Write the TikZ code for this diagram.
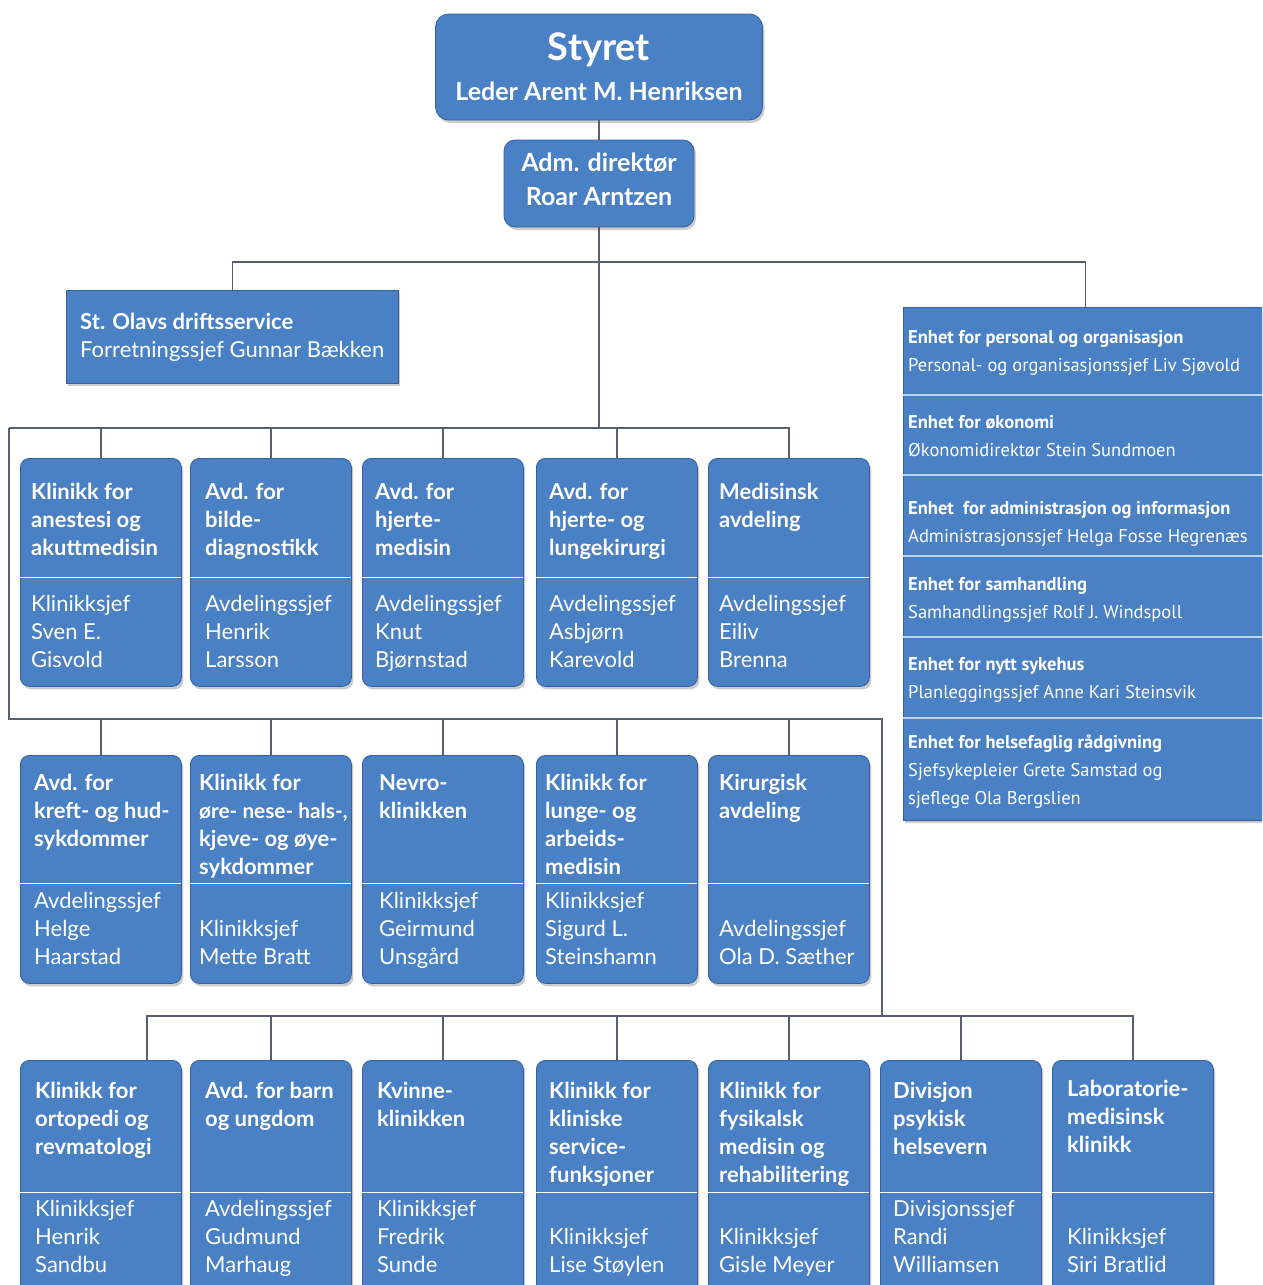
\documentclass[tikz,border=0pt]{standalone}
\usepackage{fontspec}
\setmainfont{Lato}
\newfontfamily\panelfont{PT Sans}
\usetikzlibrary{positioning, shadows}
\definecolor{boxblue}{RGB}{74,128,196}
\definecolor{boxedge}{RGB}{52,96,160}
\definecolor{wiregray}{RGB}{88,96,110}
\definecolor{rule}{RGB}{190,212,238}

\begin{document}
\begin{tikzpicture}[x=1pt, y=-1pt,
  box/.style={rectangle, rounded corners=9pt, draw=boxedge, line width=0.8pt, fill=boxblue, inner sep=0pt,
    drop shadow={shadow xshift=2pt, shadow yshift=-3pt, opacity=0.4}},
  unit/.style={box, anchor=north west, minimum width=161pt},
  flat/.style={box, sharp corners, anchor=north west},
  head/.style={anchor=north west, inner sep=0pt, align=left, text=white, font=\bfseries\fontsize{22}{28}\selectfont},
  body/.style={anchor=north west, inner sep=0pt, align=left, text=white, font=\fontsize{22}{28}\selectfont},
  note/.style={anchor=north west, inner sep=0pt, align=left, text=white, font=\panelfont\fontsize{18.5}{28}\selectfont},
  wire/.style={draw=wiregray, line width=1.5pt},
  divider/.style={draw=white, line width=1pt},
  panelrule/.style={draw=rule, line width=2pt}
]
\useasboundingbox (0,0) rectangle (1262,1285);
\clip (0,0) rectangle (1262,1285);

% Top of the chart
\node[box, rounded corners=13pt, minimum width=327pt, minimum height=106pt, text=white, align=center,
  font=\bfseries\fontsize{25}{40}\selectfont] (styret) at (599,67)
  {{\fontsize{38}{40}\selectfont Styret}\\Leder Arent M. Henriksen};
\node[box, rounded corners=11pt, minimum width=190pt, minimum height=87pt, text=white, align=center,
  text depth=9pt, font=\bfseries\fontsize{25}{34}\selectfont] (adm) at (599,183.5) {Adm. direktør\\Roar Arntzen};

\node[flat, minimum width=332pt, minimum height=93pt] (drift) at (66,290) {};
\node[body] (driftt) at (80,313)
  {\textbf{St. Olavs driftsservice}\\Forretningssjef Gunnar Bækken};

% Staff units
\node[flat, minimum width=364pt, minimum height=513pt] (stab) at (903,307) {};
\foreach \y in {395,475,556,637,718}
  \draw[panelrule] (stab.west |- 0,\y) -- (stab.east |- 0,\y);
\node[note] (p1) at (908,330) {\textbf{Enhet for personal og organisasjon}\\Personal- og organisasjonssjef Liv Sjøvold};
\node[note] (p2) at (908,415) {\textbf{Enhet for økonomi}\\Økonomidirektør Stein Sundmoen};
\node[note] (p3) at (908,501) {\textbf{Enhet\ \ for administrasjon og informasjon}\\Administrasjonssjef Helga Fosse Hegrenæs};
\node[note] (p4) at (908,577) {\textbf{Enhet for samhandling}\\Samhandlingssjef Rolf J. Windspoll};
\node[note] (p5) at (908,657) {\textbf{Enhet for nytt sykehus}\\Planleggingssjef Anne Kari Steinsvik};
\node[note] (p6) at (908,735) {\textbf{Enhet for helsefaglig rådgivning}\\Sjefsykepleier Grete Samstad og\\sjeflege Ola Bergslien};

% Bus lines
\coordinate (busA) at (599,262);
\coordinate (busB) at (599,428);
\coordinate (edgeL) at (9,428);
\coordinate (edgeLL) at (9,719);
\coordinate (edgeR) at (882,719);
\coordinate (busC) at (882,1016);

% Clinic boxes
\foreach \n/\x in {k1/20, k2/190, k3/362, k4/536, k5/708}
  \node[unit, minimum height=228pt] (\n) at (\x,458) {};
\foreach \n/\x in {m1/20, m2/190, m3/362, m4/536, m5/708}
  \node[unit, minimum height=228pt] (\n) at (\x,755) {};
\foreach \n/\x in {n1/20, n2/190, n3/362, n4/536, n5/708, n6/880, n7/1052}
  \node[unit, minimum height=260pt] (\n) at (\x,1060) {};

\foreach \i in {1,...,5} \draw[divider] (k\i.north west) ++(0,119) -- ++(161,0);
\foreach \i in {1,...,5} \draw[divider] (m\i.north west) ++(0,128) -- ++(161,0);
\foreach \i in {1,...,7} \draw[divider] (n\i.north west) ++(0,132) -- ++(161,0);

% Connectors
\draw[wire] (styret.south) -- (adm.north);
\draw[wire] (adm.south) -- (busB);
\draw[wire] (drift.north) |- (busA) -| (stab.north);
\draw[wire] (edgeL) -- (k5.north |- busB) -- (k5.north);
\foreach \i in {1,...,4} \draw[wire] (k\i.north) -- (k\i.north |- busB);
\draw[wire] (edgeL) -- (edgeLL) -- (edgeR) -- (busC);
\foreach \i in {1,...,5} \draw[wire] (m\i.north) -- (m\i.north |- edgeLL);
\draw[wire] ([xshift=46pt]n1.north) |- (n7.north |- busC) -- (n7.north);
\foreach \i in {2,...,6} \draw[wire] (n\i.north) -- (n\i.north |- busC);

% Row 1
\node[head] (k1h) at ([shift={(11,25)}]k1.north west) {Klinikk for\\anestesi og\\akuttmedisin};
\node[body] (k1b) at ([shift={(11,137)}]k1.north west) {Klinikksjef\\Sven E.\\Gisvold};
\node[head] (k2h) at ([shift={(15,25)}]k2.north west) {Avd. for\\bilde-\\diagnostikk};
\node[body] (k2b) at ([shift={(15,137)}]k2.north west) {Avdelingssjef\\Henrik\\Larsson};
\node[head] (k3h) at ([shift={(13,25)}]k3.north west) {Avd. for\\hjerte-\\medisin};
\node[body] (k3b) at ([shift={(13,137)}]k3.north west) {Avdelingssjef\\Knut\\Bjørnstad};
\node[head] (k4h) at ([shift={(13,25)}]k4.north west) {Avd. for\\hjerte- og\\lungekirurgi};
\node[body] (k4b) at ([shift={(13,137)}]k4.north west) {Avdelingssjef\\Asbjørn\\Karevold};
\node[head] (k5h) at ([shift={(11,25)}]k5.north west) {Medisinsk\\avdeling};
\node[body] (k5b) at ([shift={(11,137)}]k5.north west) {Avdelingssjef\\Eiliv\\Brenna};

% Row 2
\node[head] (m1h) at ([shift={(14,19)}]m1.north west) {Avd. for\\kreft- og hud-\\sykdommer};
\node[body] (m1b) at ([shift={(14,137)}]m1.north west) {Avdelingssjef\\Helge\\Haarstad};
\node[head] (m2h) at ([shift={(9,19)}]m2.north west) {Klinikk for\\{\fontsize{20.8}{28}\selectfont øre- nese- hals-,}\\kjeve- og øye-\\sykdommer};
\node[body] (m2b) at ([shift={(9,165)}]m2.north west) {Klinikksjef\\Mette Bratt};
\node[head] (m3h) at ([shift={(17,19)}]m3.north west) {Nevro-\\klinikken};
\node[body] (m3b) at ([shift={(17,137)}]m3.north west) {Klinikksjef\\Geirmund\\Unsgård};
\node[head] (m4h) at ([shift={(9,19)}]m4.north west) {Klinikk for\\lunge- og\\arbeids-\\medisin};
\node[body] (m4b) at ([shift={(9,137)}]m4.north west) {Klinikksjef\\Sigurd L.\\Steinshamn};
\node[head] (m5h) at ([shift={(11,19)}]m5.north west) {Kirurgisk\\avdeling};
\node[body] (m5b) at ([shift={(11,165)}]m5.north west) {Avdelingssjef\\Ola D. Sæther};

% Row 3
\node[head] (n1h) at ([shift={(15,22)}]n1.north west) {Klinikk for\\ortopedi og\\revmatologi};
\node[body] (n1b) at ([shift={(15,140)}]n1.north west) {Klinikksjef\\Henrik\\Sandbu};
\node[head] (n2h) at ([shift={(15,22)}]n2.north west) {Avd. for barn\\og ungdom};
\node[body] (n2b) at ([shift={(15,140)}]n2.north west) {Avdelingssjef\\Gudmund\\Marhaug};
\node[head] (n3h) at ([shift={(15,22)}]n3.north west) {Kvinne-\\klinikken};
\node[body] (n3b) at ([shift={(15,140)}]n3.north west) {Klinikksjef\\Fredrik\\Sunde};
\node[head] (n4h) at ([shift={(13,22)}]n4.north west) {Klinikk for\\kliniske\\service-\\funksjoner};
\node[body] (n4b) at ([shift={(13,168)}]n4.north west) {Klinikksjef\\Lise Støylen};
\node[head] (n5h) at ([shift={(11,22)}]n5.north west) {Klinikk for\\fysikalsk\\medisin og\\rehabilitering};
\node[body] (n5b) at ([shift={(11,168)}]n5.north west) {Klinikksjef\\Gisle Meyer};
\node[head] (n6h) at ([shift={(13,22)}]n6.north west) {Divisjon\\psykisk\\helsevern};
\node[body] (n6b) at ([shift={(13,140)}]n6.north west) {Divisjonssjef\\Randi\\Williamsen};
\node[head] (n7h) at ([shift={(15,20)}]n7.north west) {Laboratorie-\\medisinsk\\klinikk};
\node[body] (n7b) at ([shift={(15,168)}]n7.north west) {Klinikksjef\\Siri Bratlid};

\end{tikzpicture}
\end{document}
